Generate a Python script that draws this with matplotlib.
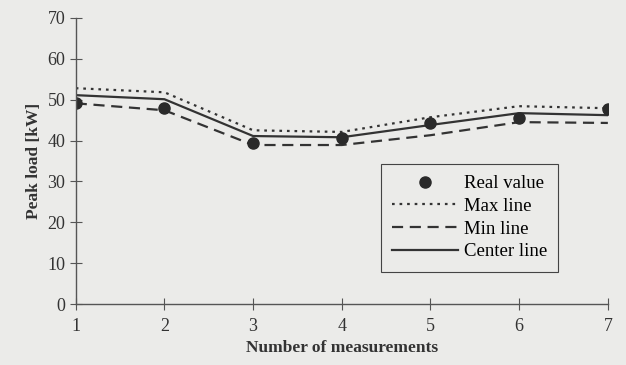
import matplotlib
matplotlib.use('Agg')
import matplotlib.pyplot as plt

measurements = [1, 2, 3, 4, 5, 6, 7]
real_value = [49.1, 47.9, 39.4, 40.6, 44.3, 45.5, 47.8]
max_line = [52.8, 51.8, 42.5, 42.1, 45.7, 48.4, 47.9]
min_line = [49.1, 47.4, 38.9, 38.9, 41.3, 44.5, 44.3]
center_line = [51.1, 50.1, 41.1, 40.8, 43.8, 46.7, 46.2]

plt.rcParams['font.family'] = ['Liberation Serif', 'DejaVu Serif']
bg = '#ebebe9'
ink = '#333333'

fig = plt.figure(figsize=(6.26, 3.65), dpi=100, facecolor=bg)
ax = fig.add_axes([0.121, 0.167, 0.850, 0.784], facecolor=bg)

ax.plot(measurements, max_line, linestyle=(0, (1.2, 2.2)), color=ink, lw=1.6, label='Max line')
ax.plot(measurements, min_line, linestyle=(0, (5, 3)), color=ink, lw=1.6, label='Min line')
ax.plot(measurements, center_line, linestyle='-', color=ink, lw=1.6, label='Center line')
ax.plot(measurements, real_value, 'o', color='#2a2a2a', ms=8, label='Real value')

ax.set_xlim(1, 7)
ax.set_ylim(0, 70)
ax.set_xticks(measurements)
ax.set_yticks(range(0, 71, 10))
for s in ['top', 'right']:
    ax.spines[s].set_visible(False)
for s in ['left', 'bottom']:
    ax.spines[s].set_color('#555555')
    ax.spines[s].set_linewidth(1.0)
ax.tick_params(direction='inout', length=8, color='#555555', labelsize=13, labelcolor=ink)
ax.tick_params(axis='x', pad=6)

ax.set_xlabel('Number of measurements', fontsize=12.5, fontweight='bold', color=ink)
ax.set_ylabel('Peak load [kW]', fontsize=12.5, fontweight='bold', color=ink)

handles, labels = ax.get_legend_handles_labels()
order = [3, 0, 1, 2]
leg = ax.legend([handles[i] for i in order], [labels[i] for i in order],
                loc='upper left', bbox_to_anchor=(0.574, 0.49), fontsize=13.5,
                handlelength=3.5, handletextpad=0.3, fancybox=False, framealpha=1,
                facecolor=bg, edgecolor='#444444', borderpad=0.6, labelspacing=0.3,
                borderaxespad=0)
leg.get_frame().set_linewidth(0.8)

fig.savefig('out.png', dpi=100, facecolor=bg)
